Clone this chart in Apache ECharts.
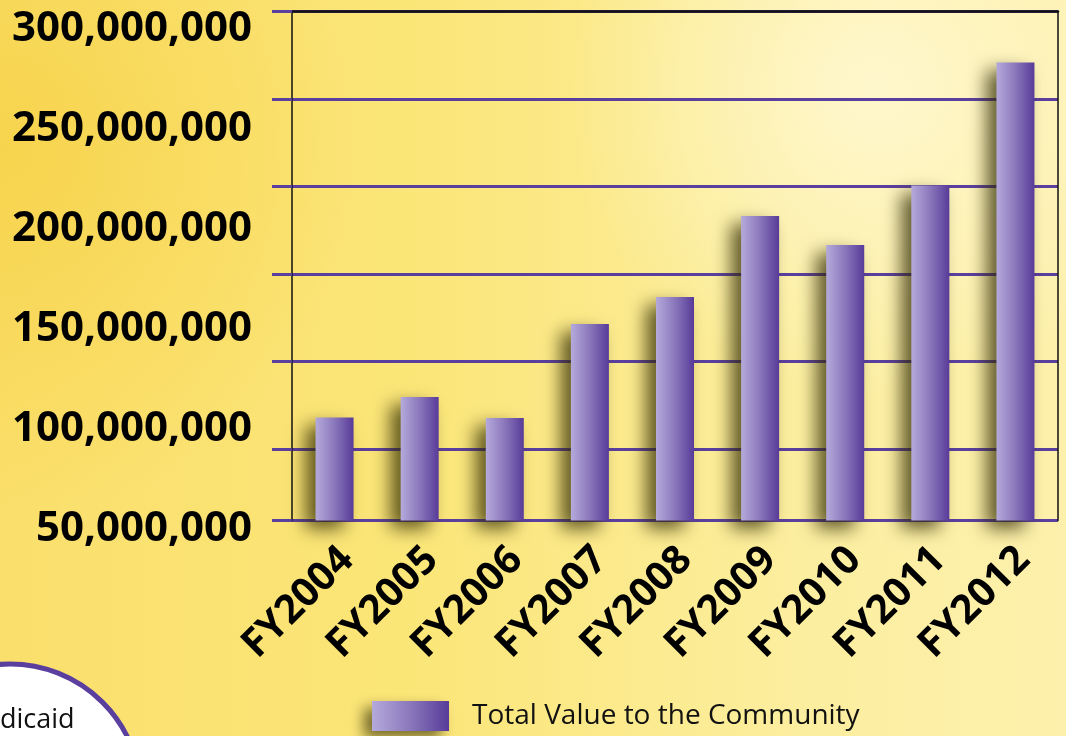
<!DOCTYPE html>
<html><head><meta charset="utf-8">
<script src="https://cdn.jsdelivr.net/npm/echarts@6/dist/echarts.min.js"></script>
<style>html,body{margin:0;padding:0;background:#fbe36e;}#c{width:1066px;height:736px;}</style>
</head><body><div id="c"></div>
<script>
// ---- data ----
const categories = ['FY2004','FY2005','FY2006','FY2007','FY2008','FY2009','FY2010','FY2011','FY2012'];
const totalValue = [105700000,116000000,105500000,152500000,166000000,206500000,192000000,221800000,283200000];
const yTickLabels = [50000000,100000000,150000000,200000000,250000000,300000000];
const seriesName = 'Total Value to the Community';
const cornerText = 'dicaid';

// ---- layout (pixels) ----
const W = 1066, H = 736;
const plotTop = 11.5, plotBottom = 520.5, plotLeft = 292, plotRight = 1058;
const labTop = 29, labBottom = 529;          // where the y tick labels sit
const gridStep = 87.5;                       // gridline spacing
const yMinLab = yTickLabels[0], yMaxLab = yTickLabels[yTickLabels.length - 1];
const yStep = yTickLabels[1] - yTickLabels[0];
const vpp = (yMaxLab - yMinLab) / (labBottom - labTop);
const barMin = yMinLab + (labBottom - plotBottom) * vpp;
const barMax = yMaxLab + (labTop - plotTop) * vpp;

const PURPLE = '#5a3f9e';
const FONT = "'Open Sans', 'Noto Sans', sans-serif";

const barGrad = new echarts.graphic.LinearGradient(0, 0, 1, 0, [
  { offset: 0, color: '#b5aadb' },
  { offset: 0.5, color: '#8a77bb' },
  { offset: 1, color: '#583b99' }
]);

const chart = echarts.init(document.getElementById('c'), null, { renderer: 'canvas', width: W, height: H });

chart.setOption({
  animation: false,
  backgroundColor: 'transparent',
  graphic: [
    { type: 'rect', z: -100, silent: true, shape: { x: 0, y: 0, width: W, height: H },
      style: { fill: new echarts.graphic.LinearGradient(0, 0, 1, 0, [
        { offset: 0, color: '#fadf6c' },
        { offset: 0.4, color: '#fbe679' },
        { offset: 0.75, color: '#fcee9f' },
        { offset: 1, color: '#fdf0ac' }
      ]) } },
    { type: 'rect', z: -99, silent: true, shape: { x: 0, y: 0, width: W, height: H },
      style: { fill: new echarts.graphic.RadialGradient(0, 0.2, 0.5, [
        { offset: 0, color: 'rgba(247,210,72,0.85)' },
        { offset: 1, color: 'rgba(247,210,72,0)' }
      ]) } },
    { type: 'rect', z: -98, silent: true, shape: { x: 0, y: 0, width: W, height: H },
      style: { fill: new echarts.graphic.RadialGradient(0.82, 0.12, 0.42, [
        { offset: 0, color: 'rgba(255,249,215,0.8)' },
        { offset: 1, color: 'rgba(255,249,215,0)' }
      ]) } },
    { type: 'circle', z: 50, silent: true, shape: { cx: 10, cy: 795, r: 131 },
      style: { fill: '#ffffff', stroke: PURPLE, lineWidth: 5 } },
    { type: 'text', z: 51, silent: true, x: 0, y: 707,
      style: { text: cornerText, font: '27px ' + FONT, fill: '#111', verticalAlign: 'top' } }
  ],
  grid: [
    { left: plotLeft, top: plotTop, width: plotRight - plotLeft, height: plotBottom - plotTop },
    { left: plotLeft + 13, top: plotTop, width: plotRight - plotLeft, height: plotBottom - plotTop },
    { left: 254, top: labTop, width: 10, height: labBottom - labTop }
  ],
  legend: {
    left: 372, top: 701, padding: 0, itemWidth: 77, itemHeight: 30, icon: 'rect',
    data: [seriesName],
    itemStyle: { shadowBlur: 14, shadowColor: 'rgba(45,40,0,0.65)', shadowOffsetX: -8, shadowOffsetY: 7 },
    textStyle: { fontFamily: FONT, fontSize: 28, color: '#111', padding: [0, 0, 0, 18] }
  },
  xAxis: [
    { type: 'category', gridIndex: 0, data: categories,
      axisLine: { show: true, lineStyle: { color: '#111', width: 2.5 } },
      axisTick: { show: false }, axisLabel: { show: false }, splitLine: { show: false } },
    { type: 'category', gridIndex: 1, data: categories,
      axisLine: { show: false }, axisTick: { show: false }, splitLine: { show: false },
      axisLabel: { show: true, interval: 0, rotate: 45, margin: 33, fontFamily: FONT,
        fontWeight: 'bold', fontSize: 40, color: '#000', hideOverlap: false } },
    { type: 'value', gridIndex: 2, show: false }
  ],
  yAxis: [
    // gridlines (pixel spacing measured from the top)
    { type: 'value', gridIndex: 0, position: 'left', inverse: true, min: 0, max: plotBottom - plotTop,
      interval: gridStep, z: 0,
      axisLine: { show: true, lineStyle: { color: '#111', width: 1.5 } },
      axisTick: { show: true, length: 20, lineStyle: { color: PURPLE, width: 3 } },
      axisLabel: { show: false },
      splitLine: { show: true, lineStyle: { color: PURPLE, width: 3 } } },
    // bar value axis
    { type: 'value', gridIndex: 0, position: 'right', min: barMin, max: barMax,
      axisLine: { show: true, onZero: false, lineStyle: { color: '#111', width: 1.5 } },
      axisTick: { show: false }, axisLabel: { show: false }, splitLine: { show: false } },
    { type: 'value', gridIndex: 1, show: false, min: barMin, max: barMax },
    // tick labels
    { type: 'value', gridIndex: 2, position: 'left', min: yMinLab, max: yMaxLab, interval: yStep,
      axisLine: { show: false }, axisTick: { show: false }, splitLine: { show: false },
      axisLabel: { show: true, margin: 2, fontFamily: FONT, fontWeight: 'bold', fontSize: 42, color: '#000',
        formatter: v => Math.round(v).toLocaleString('en-US') } }
  ],
  series: [
    { name: seriesName, type: 'bar', xAxisIndex: 0, yAxisIndex: 1, data: totalValue, barWidth: 38,
      itemStyle: { color: barGrad, shadowBlur: 18, shadowColor: 'rgba(45,40,0,0.75)',
        shadowOffsetX: -10, shadowOffsetY: 8 } }
  ]
});
</script>
</body></html>
